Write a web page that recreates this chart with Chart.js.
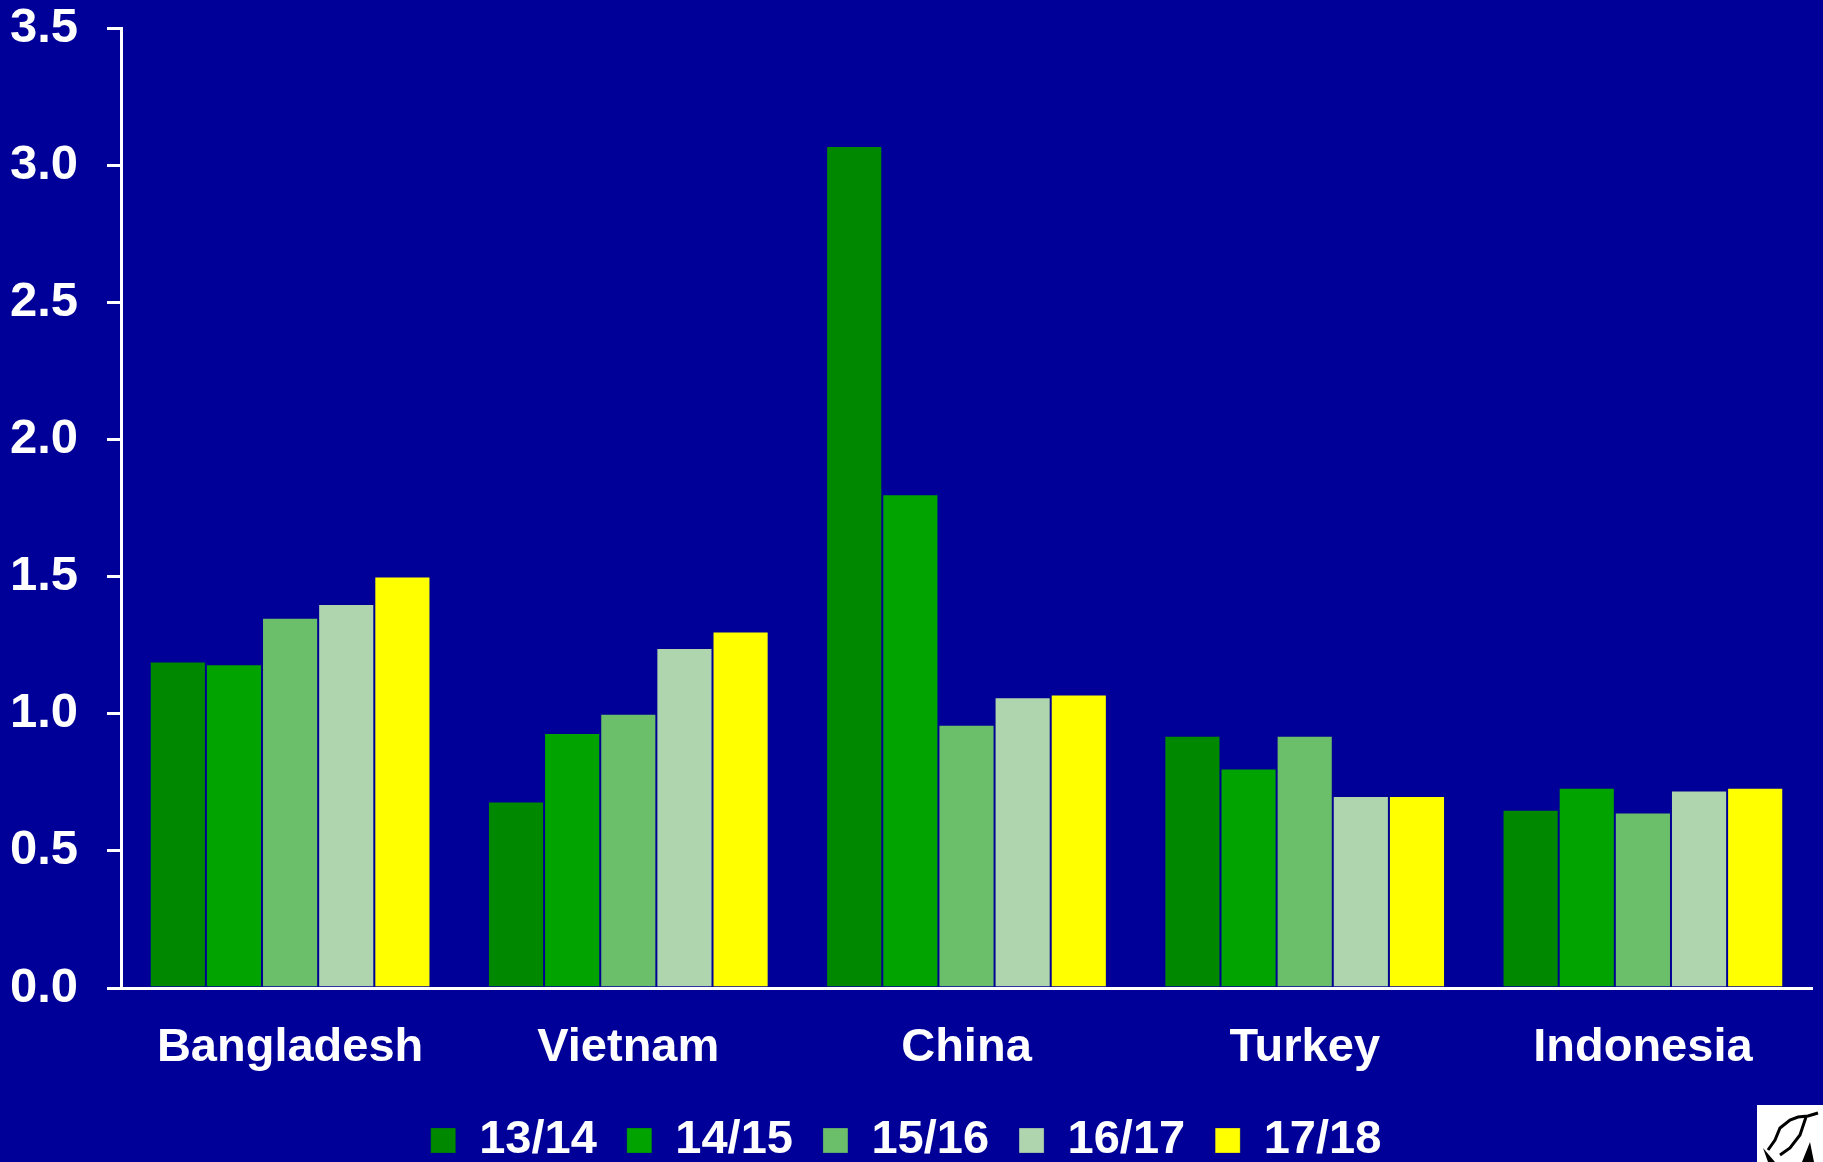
<!DOCTYPE html>
<html>
<head>
<meta charset="utf-8">
<script src="https://cdn.jsdelivr.net/npm/chart.js@4/dist/chart.umd.min.js"></script>
<style>
    html, body { margin: 0; padding: 0; background: #000099; }
    #wrap { width: 1823px; height: 1162px; }
</style>
</head>
<body>
<div id="wrap"><canvas id="bar" width="1823" height="1162"></canvas></div>
<script>
var countries = ["Bangladesh", "Vietnam", "China", "Turkey", "Indonesia"];
var seasons = ["13/14", "14/15", "15/16", "16/17", "17/18"];
var s1314 = [1.19, 0.68, 3.07, 0.92, 0.65];
var s1415 = [1.18, 0.93, 1.80, 0.80, 0.73];
var s1516 = [1.35, 1.00, 0.96, 0.92, 0.64];
var s1617 = [1.40, 1.24, 1.06, 0.70, 0.72];
var s1718 = [1.50, 1.30, 1.07, 0.70, 0.73];
var yTicks = [0, 0.5, 1.0, 1.5, 2.0, 2.5, 3.0, 3.5];

var colors = ["#008800", "#00a300", "#6bbf6b", "#aed5ae", "#ffff00"];
var series = [s1314, s1415, s1516, s1617, s1718];

var fontFamily = "'Liberation Sans', Arial, sans-serif";

// white corner badge at bottom right
var cornerLogo = {
    id: "cornerLogo",
    afterDraw: function (chart) {
        var ctx = chart.ctx;
        ctx.save();
        ctx.fillStyle = "#ffffff";
        ctx.fillRect(1757, 1105, 66, 57);
        ctx.strokeStyle = "#000000";
        ctx.lineWidth = 3;
        ctx.beginPath();
        ctx.moveTo(1768, 1150);
        ctx.lineTo(1775, 1140);
        ctx.lineTo(1780, 1128);
        ctx.lineTo(1790, 1120);
        ctx.lineTo(1798, 1117);
        ctx.lineTo(1808, 1116);
        ctx.lineTo(1818, 1113);
        ctx.moveTo(1806, 1117);
        ctx.lineTo(1800, 1135);
        ctx.lineTo(1790, 1148);
        ctx.lineTo(1780, 1155);
        ctx.stroke();
        ctx.fillStyle = "#000000";
        ctx.beginPath();
        ctx.moveTo(1763, 1148);
        ctx.lineTo(1775, 1162);
        ctx.lineTo(1768, 1162);
        ctx.closePath();
        ctx.fill();
        ctx.beginPath();
        ctx.moveTo(1810, 1142);
        ctx.lineTo(1814, 1162);
        ctx.lineTo(1802, 1162);
        ctx.closePath();
        ctx.fill();
        ctx.restore();
    }
};

var datasets = seasons.map(function (s, i) {
    return {
        label: s,
        data: series[i],
        backgroundColor: colors[i],
        borderColor: "rgba(0,0,120,0.25)",
        borderWidth: 1,
        barPercentage: 1.0,
        categoryPercentage: 0.83
    };
});

var barChart = new Chart(document.getElementById("bar"), {
    type: "bar",
    data: {
        labels: countries,
        datasets: datasets
    },
    options: {
        responsive: false,
        animation: false,
        devicePixelRatio: 1,
        layout: {
            padding: { top: 28, right: 11, left: 0, bottom: 0 }
        },
        plugins: {
            tooltip: { enabled: false },
            legend: {
                position: "bottom",
                maxHeight: 75,
                labels: {
                    color: "#ffffff",
                    boxWidth: 25,
                    boxHeight: 25,
                    padding: 30,
                    font: { family: fontFamily, size: 47, weight: "bold" }
                }
            }
        },
        scales: {
            x: {
                grid: { display: false },
                border: { display: true, color: "#ffffff", width: 3 },
                ticks: {
                    color: "#ffffff",
                    padding: 24,
                    font: { family: fontFamily, size: 47, weight: "bold" }
                },
                afterFit: function (scale) {
                    scale.height = 99;
                    scale.paddingLeft = 0;
                    scale.paddingRight = 0;
                }
            },
            y: {
                min: 0,
                max: 3.5,
                afterBuildTicks: function (scale) {
                    scale.ticks = yTicks.map(function (v) { return { value: v }; });
                },
                grid: {
                    drawOnChartArea: false,
                    drawTicks: true,
                    tickLength: 14,
                    color: "#ffffff",
                    lineWidth: 3
                },
                border: { display: true, color: "#ffffff", width: 3 },
                ticks: {
                    color: "#ffffff",
                    padding: 29,
                    font: { family: fontFamily, size: 49, weight: "bold" },
                    callback: function (v) { return Number(v).toFixed(1); }
                },
                afterFit: function (scale) {
                    scale.width = 121;
                    scale.paddingTop = 0;
                    scale.paddingBottom = 0;
                }
            }
        }
    },
    plugins: [cornerLogo]
});
</script>
</body>
</html>
